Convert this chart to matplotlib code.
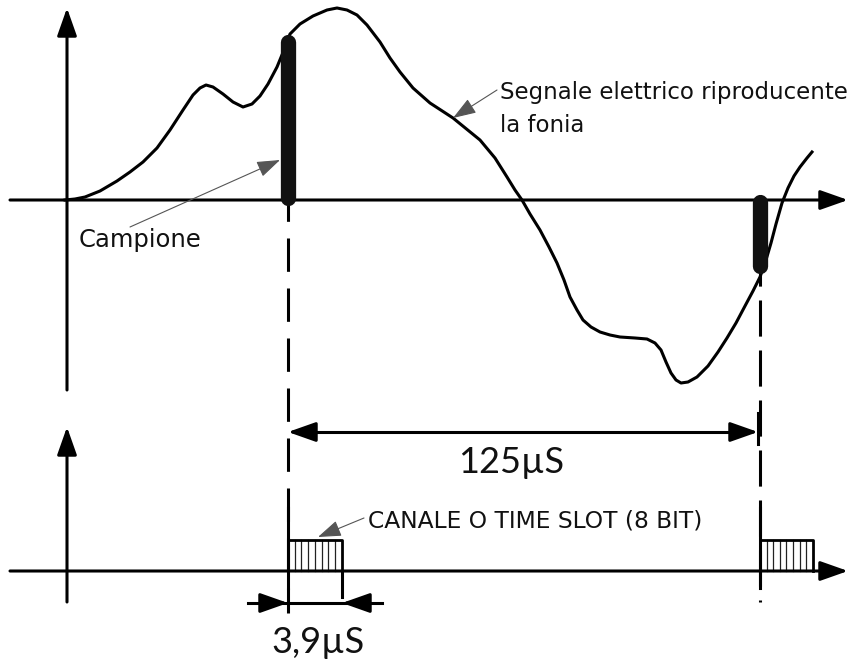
import matplotlib
matplotlib.use("Agg")
import matplotlib.pyplot as plt
import numpy as np

plt.rcParams['lines.scale_dashes'] = False

# ---- data (diagram units = reference pixels, y grows downward) ----
signal_x = [65, 75, 85, 100, 117, 130, 143, 157, 170, 183, 193, 200, 206, 213, 223,
            233, 243, 252, 260, 268, 277, 284, 290, 300, 313, 327, 337, 347, 357, 367,
            380, 390, 400, 413, 430, 453, 480, 495, 507, 515, 522, 530, 540, 549, 557,
            564, 570, 577, 583, 591, 600, 610, 620, 635, 647, 655, 661, 666, 671, 676,
            681, 688, 697, 708, 718, 727, 736, 745, 753, 760, 766, 771, 776, 782, 788,
            794, 800, 807, 812]
signal_y = [200, 199, 197, 191, 181, 172, 162, 148, 130, 110, 95, 88, 85, 87, 94,
            102, 107, 104, 96, 84, 67, 50, 34, 24, 16, 10, 8, 10, 15, 25,
            42, 58, 72, 88, 103, 118, 140, 158, 177, 190, 200, 214, 230, 247, 263,
            280, 297, 310, 320, 327, 332, 335, 337, 338, 339, 343, 350, 362, 373, 380,
            383, 382, 377, 366, 352, 338, 323, 306, 291, 277, 260, 243, 224, 203, 188,
            176, 167, 158, 152]

sample_x = [288, 760]          # sampling instants
sample_top = [42, 202]
sample_bottom = [198, 266]

slot_start = [288, 760]        # time slots on the TDM line
slot_end = [342, 813]
slot_top = 540

axis_top_y = 200
axis_bottom_y = 571
axis_x = 67

frame_label = "125\u00b5S"
slot_label = "3,9\u00b5S"
signal_label_1 = "Segnale elettrico riproducente"
signal_label_2 = "la fonia"
sample_label = "Campione"
channel_label = "CANALE O TIME SLOT (8 BIT)"

# ---- figure ----
fig = plt.figure(figsize=(8.5, 6.66), dpi=100)
ax = fig.add_axes([0, 0, 1, 1])
ax.set_xlim(0, 850)
ax.set_ylim(666, 0)
ax.axis('off')

K = 'black'

def arrow(tip, start, lw=2.2, hl=0.85, hw=0.3):
    ax.annotate('', xy=tip, xytext=start,
                arrowprops=dict(arrowstyle=f'-|>,head_length={hl},head_width={hw}',
                                lw=lw, color=K, mutation_scale=20,
                                shrinkA=0, shrinkB=0))

# axes
arrow((848, axis_top_y), (10, axis_top_y))
arrow((axis_x, 8), (axis_x, 390))
arrow((848, axis_bottom_y), (10, axis_bottom_y))
arrow((axis_x, 427), (axis_x, 602))

# dashed sampling lines
ax.plot([sample_x[0], sample_x[0]], [188, 613], color=K, lw=2.2,
        dashes=(24, 12), zorder=1)
ax.plot([sample_x[1], sample_x[1]], [250, 602], color=K, lw=2.2,
        dashes=(26, 10), zorder=1)

# signal
ax.plot(signal_x, signal_y, color=K, lw=2.2, solid_joinstyle='round', zorder=3)

# samples
for sx, st, sb in zip(sample_x, sample_top, sample_bottom):
    ax.plot([sx, sx], [st, sb], color='#111111', lw=11, solid_capstyle='round', zorder=4)

# time slots
for s0, s1 in zip(slot_start, slot_end):
    ax.plot([s0, s0, s1, s1], [axis_bottom_y, slot_top, slot_top, axis_bottom_y],
            color=K, lw=2, zorder=3)
    for hx in np.linspace(s0, s1, 9)[1:-1]:
        ax.plot([hx, hx], [slot_top, axis_bottom_y], color='#222222', lw=0.9, zorder=2)
    ax.plot([s0, s0], [slot_top - 32, axis_bottom_y + 17], color=K, lw=2.2, zorder=3)

# end tick of the first slot
ax.plot([slot_end[0], slot_end[0]], [axis_bottom_y, 597], color=K, lw=2.2)

dim_font = dict(fontsize=26, family=['Lato', 'DejaVu Sans'], fontweight='normal',
                color='#111111')

# 125 us dimension
ax.plot([sample_x[1] - 2, sample_x[1] - 2], [413, 444], color=K, lw=2.2)
ax.plot([sample_x[0] + 20, sample_x[1] - 20], [432, 432], color=K, lw=2.2)
arrow((sample_x[0], 432), (sample_x[0] + 25, 432))
arrow((sample_x[1] - 2, 432), (sample_x[1] - 27, 432))
ax.text((sample_x[0] + sample_x[1]) / 2 - 13, 473, frame_label, ha='center',
        va='baseline', **dim_font)

# 3,9 us dimension
ax.plot([248, 382], [603, 603], color=K, lw=2.2)
arrow((slot_start[0], 603), (slot_start[0] - 25, 603))
arrow((slot_end[0], 603), (slot_end[0] + 25, 603))
ax.text((slot_start[0] + slot_end[0]) / 2 + 3, 653, slot_label, ha='center',
        va='baseline', **dim_font)

# labels with leader arrows
lead = dict(arrowstyle='-|>,head_length=0.8,head_width=0.28', lw=0.8, color='#555555',
            mutation_scale=18, shrinkA=0, shrinkB=0)

ax.annotate('', xy=(453, 118), xytext=(497, 90), arrowprops=lead)
ax.text(500, 99, signal_label_1, ha='left', va='baseline', fontsize=16.5, color='#111111')
ax.text(500, 132, signal_label_2, ha='left', va='baseline', fontsize=16.5, color='#111111')

ax.annotate('', xy=(280, 160), xytext=(130, 227), arrowprops=lead)
ax.text(79, 247, sample_label, ha='left', va='baseline', fontsize=17.5, color='#111111')

ax.annotate('', xy=(318, 537), xytext=(364, 518), arrowprops=lead)
ax.text(368, 528, channel_label, ha='left', va='baseline', fontsize=16.8, color='#111111')

fig.savefig('out.png', dpi=100)
